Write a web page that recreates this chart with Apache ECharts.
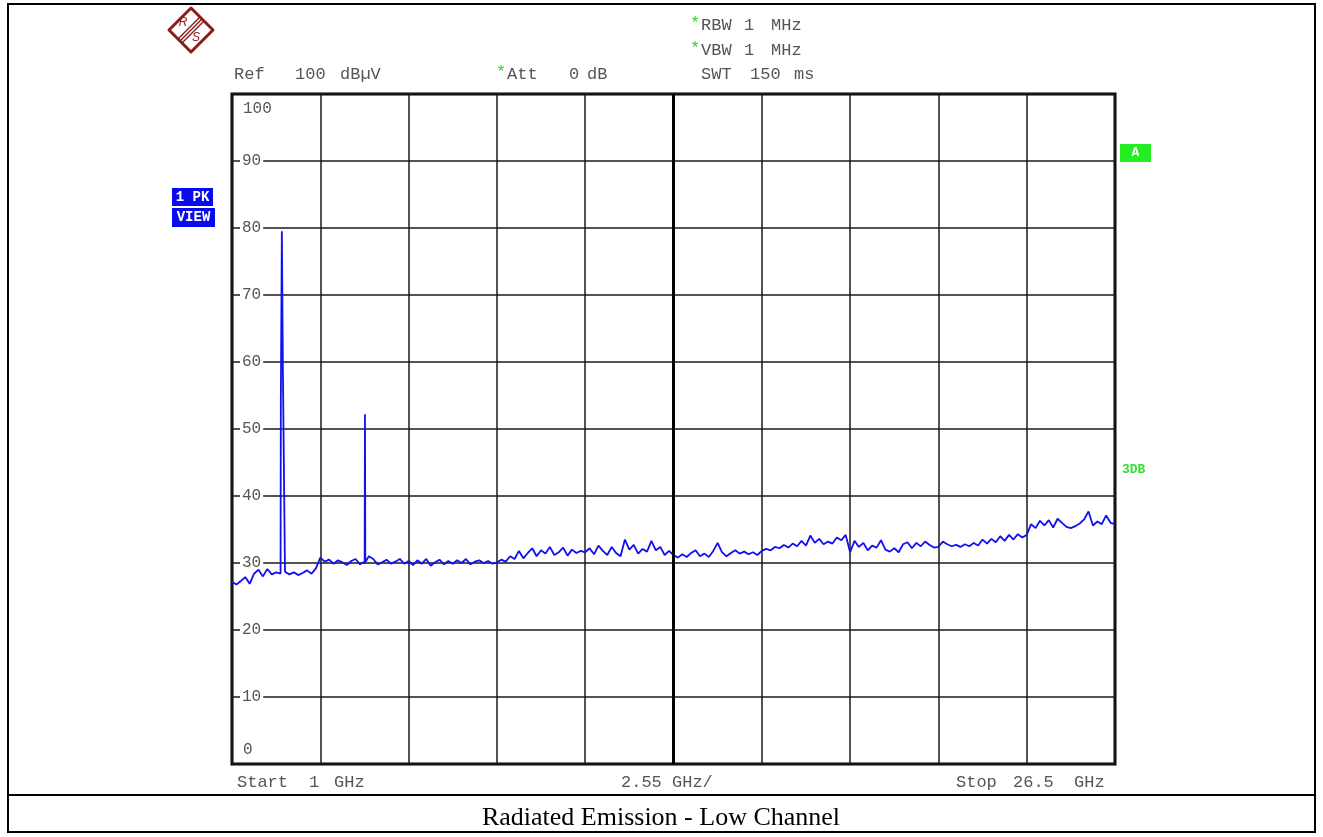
<!DOCTYPE html>
<html><head><meta charset="utf-8">
<script src="https://cdn.jsdelivr.net/npm/echarts@6/dist/echarts.min.js"></script>
<style>html,body{margin:0;padding:0;background:#fff}#c{width:1323px;height:837px}</style>
</head><body><div id="c"></div>
<script>
// ---- instrument settings ----
const startGHz = 1;
const stopGHz = 26.5;
const ghzPerDiv = 2.55;
const divisions = 10;
const refLevel = 100;
const dbPerDiv = 10;
const yTickLabels = [0, 10, 20, 30, 40, 50, 60, 70, 80, 90, 100];
const traceStepGHz = 0.1275;

// ---- trace levels (dBuV), one row per division ----
const traceLevels = [
  27.2, 26.8, 27.3, 27.9, 26.9, 28.4, 29.0, 28.0, 29.1, 28.3, 28.6, 28.4, 28.7, 28.3, 28.6, 28.2, 28.5, 28.9, 28.4, 29.2,
  30.8, 30.2, 30.5, 29.9, 30.4, 30.1, 29.7, 30.3, 30.6, 29.8, 30.2, 31.0, 30.6, 29.8, 30.1, 30.5, 29.9, 30.2, 30.6, 29.9,
  30.3, 29.7, 30.4, 29.9, 30.6, 29.6, 30.1, 30.5, 29.8, 30.3, 29.9, 30.4, 30.0, 30.6, 29.8, 30.2, 30.4, 30.0, 30.3, 29.9,
  30.1, 30.5, 30.2, 31.0, 30.6, 31.8, 30.7, 31.5, 32.2, 31.0, 31.9, 31.4, 32.4, 31.2, 31.6, 32.3, 31.1, 32.0, 31.5, 31.8,
  31.6, 32.2, 31.3, 32.6, 31.8, 31.2, 32.4, 31.5, 31.0, 33.5, 32.0, 32.7, 31.4, 32.1, 31.7, 33.3, 31.9, 32.4, 31.2, 31.8,
  31.2, 30.8, 31.3, 30.9, 31.5, 31.9, 31.0, 31.4, 30.9, 31.8, 33.0, 31.6, 31.0, 31.5, 31.9, 31.4, 31.7, 31.3, 31.6, 31.2,
  31.8, 32.1, 31.9, 32.4, 32.2, 32.7, 32.3, 32.9, 32.5, 33.3, 32.6, 34.1, 33.0, 33.6, 32.8, 33.2, 32.9, 33.8, 33.4, 34.2,
  31.6, 33.3, 32.4, 33.0, 31.9, 32.6, 32.3, 33.4, 32.0, 31.7, 32.2, 31.6, 32.8, 33.1, 32.2, 33.0, 32.5, 33.2, 32.7, 32.3,
  32.4, 33.2, 32.8, 32.5, 32.7, 32.4, 32.8, 32.5, 33.0, 32.6, 33.5, 32.9, 33.6, 33.1, 34.0, 33.3, 34.2, 33.5, 34.3, 33.8,
  34.2, 35.8, 35.2, 36.3, 35.6, 36.4, 35.3, 36.6, 36.0, 35.4, 35.2, 35.5, 35.9, 36.5, 37.7, 35.6, 36.2, 35.8, 37.1, 36.0,
  35.8
];

// ---- narrow emissions (fundamental and harmonic) ----
const spikeFreqs  = [2.41, 2.44, 2.47, 4.83, 4.84, 4.85];
const spikeLevels = [53.8, 79.5, 58.7, 29.9, 52.2, 30.1];

// ---- header / footer texts ----
const headerTexts = ['Ref', '100', 'dBµV', 'Att', '0', 'dB', 'RBW', '1', 'MHz', 'VBW', '1', 'MHz', 'SWT', '150', 'ms'];
const footerTexts = ['Start', '1', 'GHz', '2.55 GHz/', 'Stop', '26.5', 'GHz'];
const caption = 'Radiated Emission - Low Channel';

// convert frequency to division units (axis runs 0..10 divisions)
const toDiv = f => (f - startGHz) / ghzPerDiv;

const pts = [];
traceLevels.forEach((v, i) => pts.push([toDiv(startGHz + i * traceStepGHz), v]));
spikeFreqs.forEach((f, i) => pts.push([toDiv(f), spikeLevels[i]]));
pts.sort((a, b) => a[0] - b[0]);

const MONO = '"Liberation Mono", "DejaVu Sans Mono", monospace';
const GREY = '#555';
const chart = echarts.init(document.getElementById('c'), null, {renderer: 'canvas'});

function txt(text, x, y, opts) {
  opts = opts || {};
  return {
    type: 'text', x: x, y: y, z: 100, silent: true,
    style: {
      text: text,
      font: opts.font || ('17px ' + MONO),
      fill: opts.fill || GREY,
      textAlign: opts.align || 'left', align: opts.align || 'left',
      textVerticalAlign: 'middle', verticalAlign: 'middle'
    }
  };
}

const greenStar = '#22dd22';
const graphics = [
  // outer frame and caption separator
  {type: 'rect', z: 100, silent: true, shape: {x: 8, y: 4, width: 1307, height: 828}, style: {fill: 'none', stroke: '#000', lineWidth: 2}},
  {type: 'line', z: 100, silent: true, shape: {x1: 8, y1: 795, x2: 1315, y2: 795}, style: {stroke: '#000', lineWidth: 2}},
  // logo
  {type: 'group', x: 191, y: 30, z: 100, silent: true, children: [
    {type: 'polygon', shape: {points: [[0, -22], [22, 0], [0, 22], [-22, 0]]}, style: {fill: 'none', stroke: '#8b1c1c', lineWidth: 3, lineJoin: 'round'}},
    {type: 'line', shape: {x1: 13, y1: -9, x2: -9, y2: 13}, style: {stroke: '#8b1c1c', lineWidth: 1.5}},
    {type: 'line', shape: {x1: 11, y1: -11, x2: -11, y2: 11}, style: {stroke: '#8b1c1c', lineWidth: 1.5}},
    {type: 'line', shape: {x1: 9, y1: -13, x2: -13, y2: 9}, style: {stroke: '#8b1c1c', lineWidth: 1.5}},
    {type: 'text', x: -8, y: -7, style: {text: 'R', font: 'italic 12px "Liberation Sans"', fill: '#8b1c1c', align: 'center', verticalAlign: 'middle', textAlign: 'center', textVerticalAlign: 'middle'}},
    {type: 'text', x: 5, y: 8, style: {text: 'S', font: 'italic 12px "Liberation Sans"', fill: '#8b1c1c', align: 'center', verticalAlign: 'middle', textAlign: 'center', textVerticalAlign: 'middle'}}
  ]},
  // header
  txt(headerTexts[0], 234, 74), txt(headerTexts[1], 295, 74), txt(headerTexts[2], 340, 74),
  txt('*', 496, 72, {fill: greenStar}), txt(headerTexts[3], 507, 74), txt(headerTexts[4], 569, 74), txt(headerTexts[5], 587, 74),
  txt('*', 690, 23, {fill: greenStar}), txt(headerTexts[6], 701, 25), txt(headerTexts[7], 744, 25), txt(headerTexts[8], 771, 25),
  txt('*', 690, 48, {fill: greenStar}), txt(headerTexts[9], 701, 50), txt(headerTexts[10], 744, 50), txt(headerTexts[11], 771, 50),
  txt(headerTexts[12], 701, 74), txt(headerTexts[13], 750, 74), txt(headerTexts[14], 794, 74),
  // footer of the plot
  txt(footerTexts[0], 237, 782), txt(footerTexts[1], 309, 782), txt(footerTexts[2], 334, 782),
  txt(footerTexts[3], 621, 782),
  txt(footerTexts[4], 956, 782), txt(footerTexts[5], 1013, 782), txt(footerTexts[6], 1074, 782),
  // caption
  {type: 'text', x: 661, y: 818, z: 100, silent: true, style: {text: caption, font: '26px "Liberation Serif", "Times New Roman", serif', fill: '#000', align: 'center', textAlign: 'center', verticalAlign: 'middle', textVerticalAlign: 'middle'}},
  // trace info boxes
  {type: 'rect', z: 100, silent: true, shape: {x: 172, y: 188, width: 41, height: 18}, style: {fill: '#0a0aee'}},
  txt('1 PK', 192.5, 197, {fill: '#fff', align: 'center', font: 'bold 14px ' + MONO}),
  {type: 'rect', z: 100, silent: true, shape: {x: 172, y: 208, width: 43, height: 19}, style: {fill: '#0a0aee'}},
  txt('VIEW', 193.5, 217.5, {fill: '#fff', align: 'center', font: 'bold 14px ' + MONO}),
  {type: 'rect', z: 100, silent: true, shape: {x: 1120, y: 144, width: 31, height: 18}, style: {fill: '#22ee22'}},
  txt('A', 1135.5, 153, {fill: '#fff', align: 'center', font: 'bold 13px ' + MONO}),
  txt('3DB', 1122, 470, {fill: '#33dd33', font: 'bold 13px ' + MONO})
];

const option = {
  animation: false,
  backgroundColor: '#fff',
  grid: {left: 232, top: 94, width: 883, height: 670, show: true, borderColor: '#000', borderWidth: 3, backgroundColor: 'transparent'},
  xAxis: {
    type: 'value', min: 0, max: divisions, interval: 1,
    axisLine: {show: false}, axisTick: {show: false}, axisLabel: {show: false},
    splitLine: {show: true, lineStyle: {color: '#1a1a1a', width: 1.5}}
  },
  yAxis: {
    type: 'value', min: refLevel - divisions * dbPerDiv, max: refLevel, interval: dbPerDiv,
    axisLine: {show: false}, axisTick: {show: false},
    splitLine: {show: true, lineStyle: {color: '#1a1a1a', width: 1.5}},
    axisLabel: {
      inside: true, margin: 8, color: GREY, fontFamily: MONO, fontSize: 16,
      backgroundColor: '#fff', padding: [0, 2, 0, 2],
      formatter: v => (v === yTickLabels[0] || v === yTickLabels[yTickLabels.length - 1]) ? '' : String(v)
    }
  },
  series: [
    {
      type: 'line', data: [], z: 1, silent: true,
      markLine: {silent: true, symbol: 'none', label: {show: false}, lineStyle: {color: '#000', width: 3, type: 'solid'}, data: [{xAxis: divisions / 2}]}
    },
    {
      type: 'line', data: pts, showSymbol: false, symbol: 'none', z: 3,
      lineStyle: {color: '#1010f0', width: 1.8}
    }
  ],
  graphic: graphics
};
chart.setOption(option);

// top and bottom scale labels sit just inside the frame
const yTop = chart.convertToPixel({yAxisIndex: 0}, yTickLabels[yTickLabels.length - 1]);
const yBot = chart.convertToPixel({yAxisIndex: 0}, yTickLabels[0]);
const xLab = chart.convertToPixel({xAxisIndex: 0}, 0);
chart.setOption({graphic: graphics.concat([
  txt(String(yTickLabels[yTickLabels.length - 1]), xLab + 11, yTop + 15, {font: '16px ' + MONO}),
  txt(String(yTickLabels[0]), xLab + 11, yBot - 14, {font: '16px ' + MONO})
])});
</script>
</body></html>
